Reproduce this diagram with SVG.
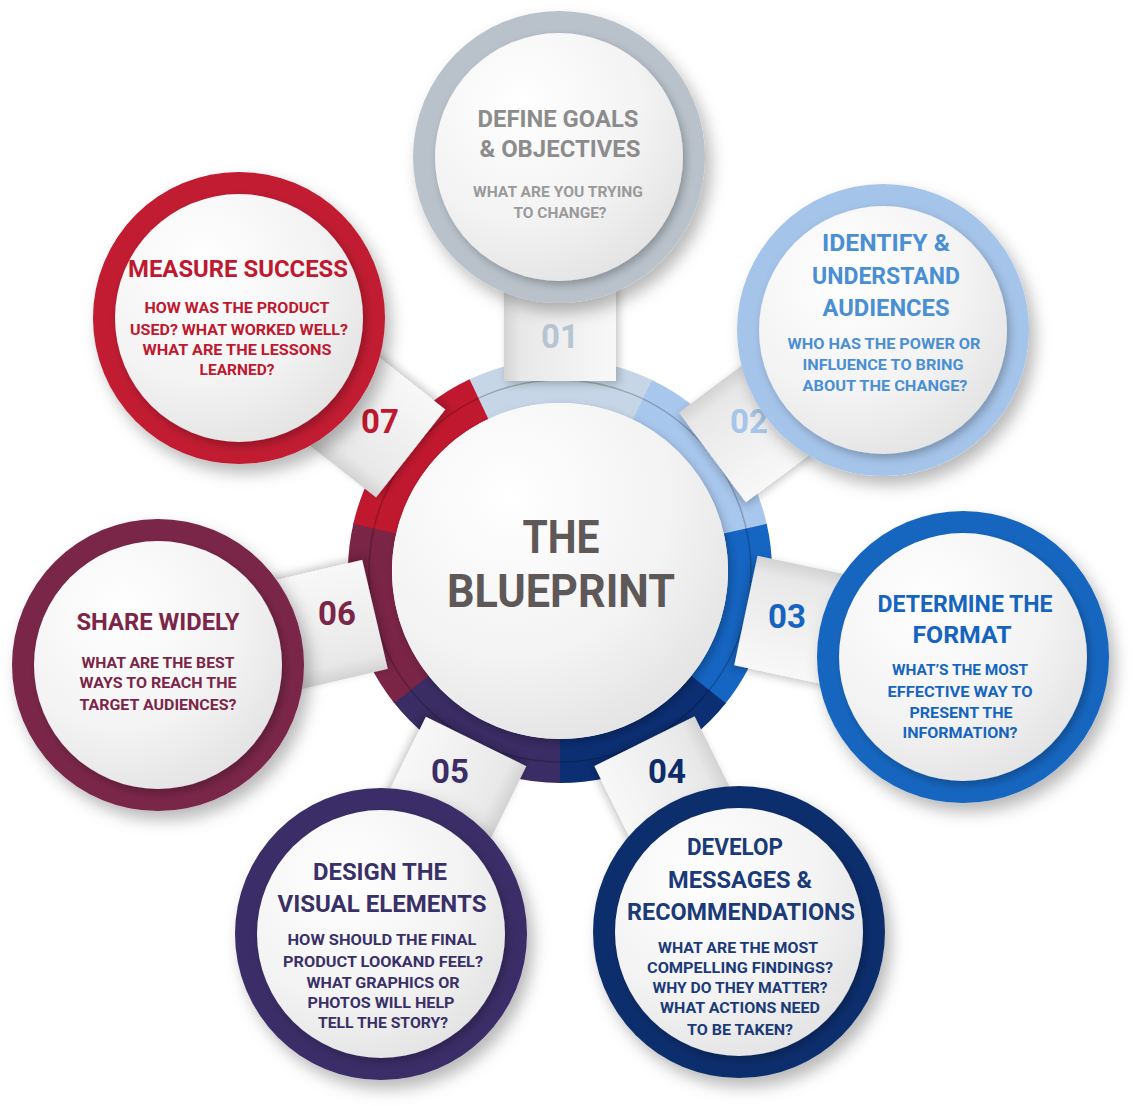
<svg xmlns="http://www.w3.org/2000/svg" width="1135" height="1106" viewBox="0 0 1135 1106">
  <defs>
    <filter id="shadow" x="-30%" y="-30%" width="170%" height="170%">
      <feDropShadow dx="6" dy="9" stdDeviation="8" flood-color="#000" flood-opacity="0.28"/>
    </filter>
    <filter id="softShadow" x="-20%" y="-20%" width="150%" height="150%">
      <feDropShadow dx="3" dy="4" stdDeviation="4" flood-color="#000" flood-opacity="0.25"/>
    </filter>
    <filter id="tabShadow" x="-40%" y="-20%" width="180%" height="140%">
      <feDropShadow dx="3" dy="3" stdDeviation="4" flood-color="#000" flood-opacity="0.22"/>
    </filter>
    <radialGradient id="face" cx="35%" cy="28%" r="80%">
      <stop offset="0" stop-color="#ffffff"/>
      <stop offset="0.6" stop-color="#f3f3f3"/>
      <stop offset="1" stop-color="#e2e2e2"/>
    </radialGradient>
    <linearGradient id="tabFill" x1="0" y1="0" x2="1" y2="0">
      <stop offset="0" stop-color="#d3d3d3"/>
      <stop offset="0.15" stop-color="#e8e8e8"/>
      <stop offset="1" stop-color="#f8f8f8"/>
    </linearGradient>
    <style>
      text { font-family: Roboto, "Liberation Sans", Arial, sans-serif; text-anchor: middle; }
      .head { font-weight: 700; font-size: 24px; }
      .sub { font-weight: 700; font-size: 15.5px; }
      .num { font-weight: 700; font-size: 33px; }
      .hub { font-weight: 700; font-size: 46px; fill: #5e5858; }
      .seg { fill: none; stroke-width: 44; stroke-dasharray: 172 1022; }
      .tab { fill: url(#tabFill); filter: url(#tabShadow); }
      .rim { filter: url(#shadow); }
      .face { fill: url(#face); filter: url(#softShadow); }
    </style>
  </defs>

  <!-- segmented ring around the hub -->
  <g id="hub-ring">
    <circle class="seg" cx="560" cy="571" r="190" stroke="#c6d6e6" transform="rotate(-115.714 560 571)"/>
    <circle class="seg" cx="560" cy="571" r="190" stroke="#a8c7ed" transform="rotate(-64.286 560 571)"/>
    <circle class="seg" cx="560" cy="571" r="190" stroke="#1565c2" transform="rotate(-12.857 560 571)"/>
    <circle class="seg" cx="560" cy="571" r="190" stroke="#0c2f74" transform="rotate(38.571 560 571)"/>
    <circle class="seg" cx="560" cy="571" r="190" stroke="#3a2c64" transform="rotate(90 560 571)"/>
    <circle class="seg" cx="560" cy="571" r="190" stroke="#7a2446" transform="rotate(141.429 560 571)"/>
    <circle class="seg" cx="560" cy="571" r="190" stroke="#c0182f" transform="rotate(192.857 560 571)"/>
    <circle cx="560" cy="571" r="191" fill="none" stroke="#000" stroke-opacity="0.22" stroke-width="1.5"/>
  </g>

  <!-- connector tabs with step numbers -->
  <g id="connectors">
    <rect class="tab" x="-56" y="-400" width="112" height="210" transform="translate(560 571) rotate(0)"/>
    <rect class="tab" x="-56" y="-400" width="112" height="210" transform="translate(560 571) rotate(53.3)"/>
    <rect class="tab" x="-56" y="-400" width="112" height="210" transform="translate(560 571) rotate(102)"/>
    <rect class="tab" x="-56" y="-400" width="112" height="210" transform="translate(560 571) rotate(153.6)"/>
    <rect class="tab" x="-56" y="-400" width="112" height="210" transform="translate(560 571) rotate(206.2)"/>
    <rect class="tab" x="-56" y="-400" width="112" height="210" transform="translate(560 571) rotate(256.8)"/>
    <rect class="tab" x="-56" y="-400" width="112" height="210" transform="translate(560 571) rotate(308.2)"/>
    <text class="num" x="560" y="348" fill="#b7c4d2">01</text>
    <text class="num" x="749" y="433" fill="#a6c5ea">02</text>
    <text class="num" x="787" y="628" fill="#1565c0">03</text>
    <text class="num" x="667" y="783" fill="#0d2c6b">04</text>
    <text class="num" x="450" y="783" fill="#3b2d66">05</text>
    <text class="num" x="337" y="625" fill="#7b2548">06</text>
    <text class="num" x="380" y="433" fill="#c0182f">07</text>
  </g>

  <!-- central hub -->
  <g id="hub">
    <circle class="face" cx="560" cy="571" r="168"/>
    <text class="hub" x="561" y="553" textLength="77" lengthAdjust="spacingAndGlyphs">THE</text>
    <text class="hub" x="561" y="607" textLength="228" lengthAdjust="spacingAndGlyphs">BLUEPRINT</text>
  </g>

  <!-- 01 -->
  <g id="step-01">
    <circle class="rim" cx="559" cy="157" r="146" fill="#b9c2cb"/>
    <circle class="face" cx="559" cy="157" r="124"/>
    <g fill="#8c8c8c">
      <text class="head" x="558" y="127" textLength="161" lengthAdjust="spacingAndGlyphs">DEFINE GOALS</text>
      <text class="head" x="560" y="157" textLength="161" lengthAdjust="spacingAndGlyphs">&amp; OBJECTIVES</text>
    </g>
    <g fill="#9a9a9a">
      <text class="sub" x="558" y="197" textLength="170" lengthAdjust="spacingAndGlyphs">WHAT ARE YOU TRYING</text>
      <text class="sub" x="560" y="218" textLength="93" lengthAdjust="spacingAndGlyphs">TO CHANGE?</text>
    </g>
  </g>

  <!-- 02 -->
  <g id="step-02" fill="#4a8fd3">
    <circle class="rim" cx="883" cy="330" r="146" fill="#a5c4ea"/>
    <circle class="face" cx="883" cy="330" r="124"/>
    <text class="head" x="886" y="251" textLength="128" lengthAdjust="spacingAndGlyphs">IDENTIFY &amp;</text>
    <text class="head" x="886" y="284" textLength="148" lengthAdjust="spacingAndGlyphs">UNDERSTAND</text>
    <text class="head" x="886" y="316" textLength="127" lengthAdjust="spacingAndGlyphs">AUDIENCES</text>
    <text class="sub" x="884" y="349" textLength="193" lengthAdjust="spacingAndGlyphs">WHO HAS THE POWER OR</text>
    <text class="sub" x="883" y="370" textLength="161" lengthAdjust="spacingAndGlyphs">INFLUENCE TO BRING</text>
    <text class="sub" x="885" y="391" textLength="165" lengthAdjust="spacingAndGlyphs">ABOUT THE CHANGE?</text>
  </g>

  <!-- 03 -->
  <g id="step-03" fill="#1565c0">
    <circle class="rim" cx="963" cy="657" r="146" fill="#1766c0"/>
    <circle class="face" cx="963" cy="657" r="124"/>
    <text class="head" x="965" y="612" textLength="175" lengthAdjust="spacingAndGlyphs">DETERMINE THE</text>
    <text class="head" x="962" y="643" textLength="99" lengthAdjust="spacingAndGlyphs">FORMAT</text>
    <text class="sub" x="960" y="675" textLength="136" lengthAdjust="spacingAndGlyphs">WHAT’S THE MOST</text>
    <text class="sub" x="960" y="697" textLength="145" lengthAdjust="spacingAndGlyphs">EFFECTIVE WAY TO</text>
    <text class="sub" x="961" y="718" textLength="103" lengthAdjust="spacingAndGlyphs">PRESENT THE</text>
    <text class="sub" x="960" y="738" textLength="115" lengthAdjust="spacingAndGlyphs">INFORMATION?</text>
  </g>

  <!-- 04 -->
  <g id="step-04" fill="#1b3a78">
    <circle class="rim" cx="739" cy="932" r="146" fill="#0f2f6d"/>
    <circle class="face" cx="739" cy="932" r="124"/>
    <text class="head" x="735" y="855" textLength="96" lengthAdjust="spacingAndGlyphs">DEVELOP</text>
    <text class="head" x="740" y="888" textLength="144" lengthAdjust="spacingAndGlyphs">MESSAGES &amp;</text>
    <text class="head" x="741" y="920" textLength="228" lengthAdjust="spacingAndGlyphs">RECOMMENDATIONS</text>
    <text class="sub" x="738" y="953" textLength="160" lengthAdjust="spacingAndGlyphs">WHAT ARE THE MOST</text>
    <text class="sub" x="740" y="973" textLength="186" lengthAdjust="spacingAndGlyphs">COMPELLING FINDINGS?</text>
    <text class="sub" x="740" y="993" textLength="175" lengthAdjust="spacingAndGlyphs">WHY DO THEY MATTER?</text>
    <text class="sub" x="740" y="1013" textLength="160" lengthAdjust="spacingAndGlyphs">WHAT ACTIONS NEED</text>
    <text class="sub" x="740" y="1035" textLength="106" lengthAdjust="spacingAndGlyphs">TO BE TAKEN?</text>
  </g>

  <!-- 05 -->
  <g id="step-05" fill="#3a3068">
    <circle class="rim" cx="381" cy="934" r="146" fill="#3a2e67"/>
    <circle class="face" cx="381" cy="934" r="124"/>
    <text class="head" x="380" y="880" textLength="134" lengthAdjust="spacingAndGlyphs">DESIGN THE</text>
    <text class="head" x="382" y="912" textLength="209" lengthAdjust="spacingAndGlyphs">VISUAL ELEMENTS</text>
    <text class="sub" x="382" y="945" textLength="189" lengthAdjust="spacingAndGlyphs">HOW SHOULD THE FINAL</text>
    <text class="sub" x="383" y="967" textLength="200" lengthAdjust="spacingAndGlyphs">PRODUCT LOOKAND FEEL?</text>
    <text class="sub" x="383" y="988" textLength="153" lengthAdjust="spacingAndGlyphs">WHAT GRAPHICS OR</text>
    <text class="sub" x="381" y="1008" textLength="147" lengthAdjust="spacingAndGlyphs">PHOTOS WILL HELP</text>
    <text class="sub" x="383" y="1028" textLength="130" lengthAdjust="spacingAndGlyphs">TELL THE STORY?</text>
  </g>

  <!-- 06 -->
  <g id="step-06" fill="#7b2548">
    <circle class="rim" cx="158" cy="665" r="146" fill="#7a2549"/>
    <circle class="face" cx="158" cy="665" r="124"/>
    <text class="head" x="158" y="630" textLength="163" lengthAdjust="spacingAndGlyphs">SHARE WIDELY</text>
    <text class="sub" x="158" y="668" textLength="153" lengthAdjust="spacingAndGlyphs">WHAT ARE THE BEST</text>
    <text class="sub" x="158" y="688" textLength="157" lengthAdjust="spacingAndGlyphs">WAYS TO REACH THE</text>
    <text class="sub" x="158" y="710" textLength="157" lengthAdjust="spacingAndGlyphs">TARGET AUDIENCES?</text>
  </g>

  <!-- 07 -->
  <g id="step-07" fill="#c0182f">
    <circle class="rim" cx="239" cy="318" r="146" fill="#c11a30"/>
    <circle class="face" cx="239" cy="318" r="124"/>
    <text class="head" x="238" y="277" textLength="220" lengthAdjust="spacingAndGlyphs">MEASURE SUCCESS</text>
    <text class="sub" x="237" y="313" textLength="185" lengthAdjust="spacingAndGlyphs">HOW WAS THE PRODUCT</text>
    <text class="sub" x="239" y="335" textLength="218" lengthAdjust="spacingAndGlyphs">USED? WHAT WORKED WELL?</text>
    <text class="sub" x="237" y="355" textLength="189" lengthAdjust="spacingAndGlyphs">WHAT ARE THE LESSONS</text>
    <text class="sub" x="237" y="375" textLength="75" lengthAdjust="spacingAndGlyphs">LEARNED?</text>
  </g>
</svg>
